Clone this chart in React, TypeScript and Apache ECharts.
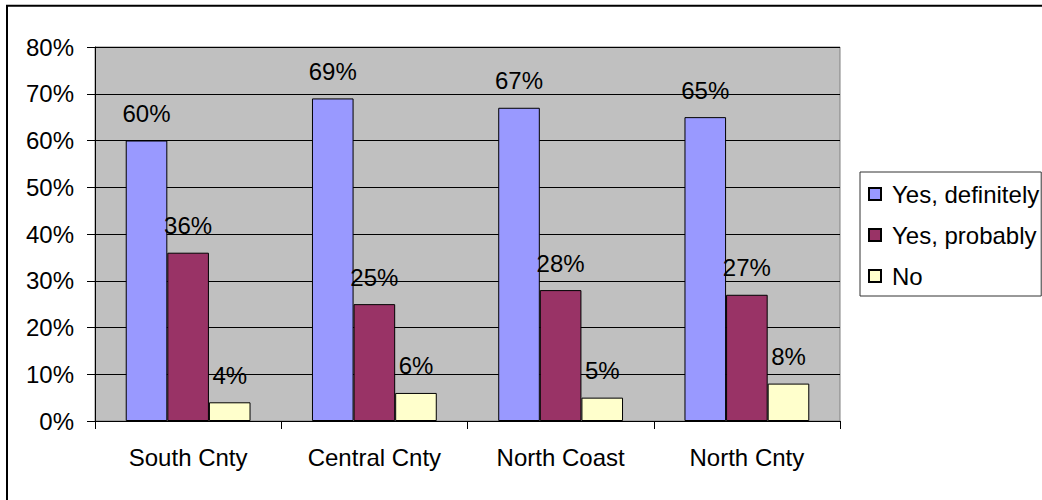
import React, { useEffect, useRef } from "react";
import * as echarts from "echarts";

// Regions along the x axis
const regions = ["South Cnty", "Central Cnty", "North Coast", "North Cnty"];

// Share of answers per region (fractions of 1)
const yesDefinitely = [0.6, 0.69, 0.67, 0.65];
const yesProbably = [0.36, 0.25, 0.28, 0.27];
const no = [0.04, 0.06, 0.05, 0.08];

const seriesNames = ["Yes, definitely", "Yes, probably", "No"];
const seriesColors = ["#9999FF", "#993366", "#FFFFCC"];

const FONT = "'Liberation Sans', Arial, sans-serif";
const FS = 24;

const pct = (v: number) => `${Math.round(v * 100)}%`;

export default function App() {
  const ref = useRef<HTMLDivElement>(null);

  useEffect(() => {
    if (!ref.current) return;
    const chart = echarts.init(ref.current, undefined, { renderer: "svg" });

    const makeSeries = (name: string, data: number[], color: string) => ({
      name,
      type: "bar",
      data,
      barGap: "0%",
      barCategoryGap: "33%",
      itemStyle: { color, borderColor: "#000", borderWidth: 1 },
      label: {
        show: true,
        position: "top",
        distance: 15,
        formatter: (p: any) => pct(p.value),
        color: "#000",
        fontFamily: FONT,
        fontSize: FS,
      },
    });

    chart.setOption({
      animation: false,
      backgroundColor: "#fff",
      textStyle: { fontFamily: FONT },
      grid: {
        left: 95,
        top: 47,
        right: 202,
        bottom: 79,
        show: true,
        backgroundColor: "#C0C0C0",
        borderColor: "#808080",
        borderWidth: 1,
      },
      legend: {
        orient: "vertical",
        left: 860,
        top: 172,
        itemWidth: 12,
        itemHeight: 12,
        itemGap: 17,
        padding: [10, 2, 8, 8],
        borderColor: "#333",
        borderWidth: 1,
        backgroundColor: "#fff",
        icon: "rect",
        data: seriesNames,
        textStyle: {
          color: "#000",
          fontFamily: FONT,
          fontSize: FS,
          padding: [0, 0, 0, 6],
        },
      },
      xAxis: {
        type: "category",
        data: regions,
        axisLine: { lineStyle: { color: "#000", width: 1 } },
        axisTick: { show: true, length: 8, lineStyle: { color: "#000" } },
        axisLabel: {
          color: "#000",
          fontFamily: FONT,
          fontSize: FS,
          margin: 24,
        },
      },
      yAxis: {
        type: "value",
        min: 0,
        max: 0.8,
        interval: 0.1,
        axisLine: { show: true, lineStyle: { color: "#000", width: 1 } },
        axisTick: { show: true, length: 8, lineStyle: { color: "#000" } },
        splitLine: { lineStyle: { color: "#000", width: 1 } },
        axisLabel: {
          color: "#000",
          fontFamily: FONT,
          fontSize: FS,
          margin: 21,
          formatter: (v: number) => pct(v),
        },
      },
      graphic: [
        {
          type: "rect",
          shape: { x: 7, y: 5.8, width: 1200, height: 700 },
          style: { fill: "none", stroke: "#000", lineWidth: 2 },
          silent: true,
          z: 100,
        },
      ],
      series: [
        makeSeries(seriesNames[0], yesDefinitely, seriesColors[0]),
        makeSeries(seriesNames[1], yesProbably, seriesColors[1]),
        makeSeries(seriesNames[2], no, seriesColors[2]),
      ],
    });

    return () => chart.dispose();
  }, []);

  return (
    <div
      ref={ref}
      style={{ position: "fixed", left: 0, top: 0, width: 1042, height: 500 }}
    />
  );
}
